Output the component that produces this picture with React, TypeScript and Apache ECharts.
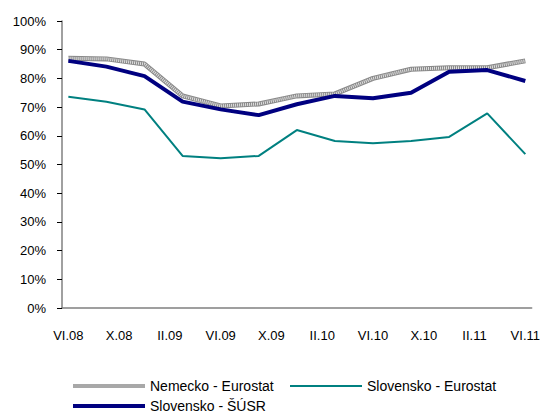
import React, { useEffect, useRef } from "react";
import * as echarts from "echarts";

// Monthly categories VI.08 .. VI.11 (37 months); data observed quarterly
const romanMonths = ["I", "II", "III", "IV", "V", "VI", "VII", "VIII", "IX", "X", "XI", "XII"];
const months: string[] = [];
for (let i = 0; i < 37; i++) {
  const m = (5 + i) % 12;
  const y = 8 + Math.floor((5 + i) / 12);
  months.push(romanMonths[m] + "." + String(y).padStart(2, "0"));
}

// Quarterly observations (VI.08, IX.08, XII.08, ... VI.11)
const nemeckoEurostat = [87.0, 86.8, 85.0, 73.9, 70.4, 71.1, 73.9, 74.6, 80.0, 83.2, 83.7, 83.7, 86.1];
const slovenskoEurostat = [73.6, 71.9, 69.2, 53.0, 52.2, 53.0, 62.0, 58.2, 57.4, 58.2, 59.6, 67.8, 53.6];
const slovenskoSUSR = [86.1, 84.1, 80.8, 71.9, 69.2, 67.2, 71.0, 73.9, 73.1, 75.0, 82.3, 82.9, 79.1];

const seriesNames = ["Nemecko - Eurostat", "Slovensko - Eurostat", "Slovensko - ŠÚSR"];

function spread(q: number[]): (number | null)[] {
  const out: (number | null)[] = months.map(() => null);
  q.forEach((v, i) => {
    out[i * 3] = v;
  });
  return out;
}

const FONT = "'Liberation Sans', Arial, sans-serif";

export default function App() {
  const ref = useRef<HTMLDivElement>(null);
  useEffect(() => {
    if (!ref.current) return;
    const chart = echarts.init(ref.current, undefined, { renderer: "svg" });
    const legendBase = {
      icon: "rect",
      itemWidth: 72,
      textStyle: { color: "#000", fontSize: 14, fontFamily: FONT },
      padding: 0,
    };
    chart.setOption({
      animation: false,
      backgroundColor: "#ffffff",
      textStyle: { fontFamily: FONT },
      grid: { left: 62, right: 11, top: 21, bottom: 105, containLabel: false },
      xAxis: {
        type: "category",
        data: months,
        boundaryGap: true,
        axisLine: { lineStyle: { color: "#808080", width: 1.5 } },
        axisTick: { interval: 3, length: 5, lineStyle: { color: "#000" } },
        axisLabel: { interval: 3, margin: 21, color: "#000", fontSize: 13, fontFamily: FONT },
        splitLine: { show: false },
      },
      yAxis: {
        type: "value",
        min: 0,
        max: 100,
        interval: 10,
        axisLine: { show: true, lineStyle: { color: "#808080", width: 1.5 } },
        axisTick: { show: true, length: 5, lineStyle: { color: "#000" } },
        axisLabel: { formatter: "{value}%", margin: 16, color: "#000", fontSize: 13, fontFamily: FONT },
        splitLine: { show: false },
      },
      legend: [
        { ...legendBase, data: [seriesNames[0]], left: 73, top: 379, itemHeight: 4 },
        { ...legendBase, data: [seriesNames[1]], left: 290, top: 379, itemHeight: 2 },
        { ...legendBase, data: [seriesNames[2]], left: 73, top: 399, itemHeight: 4 },
      ],
      series: [
        {
          name: seriesNames[0],
          type: "line",
          data: spread(nemeckoEurostat),
          connectNulls: true,
          showSymbol: false,
          symbol: "none",
          lineStyle: { color: "#8a8a8a", width: 5 },
          itemStyle: { color: "#a8a8a8" },
          z: 2,
        },
        {
          name: "nemecko-texture",
          type: "line",
          data: spread(nemeckoEurostat),
          connectNulls: true,
          showSymbol: false,
          symbol: "none",
          silent: true,
          lineStyle: { color: "#e0e0e0", width: 3, type: [1, 1] },
          itemStyle: { color: "#e0e0e0" },
          z: 2,
        },
        {
          name: seriesNames[1],
          type: "line",
          data: spread(slovenskoEurostat),
          connectNulls: true,
          showSymbol: false,
          symbol: "none",
          lineStyle: { color: "#008080", width: 2 },
          itemStyle: { color: "#008080" },
          z: 3,
        },
        {
          name: seriesNames[2],
          type: "line",
          data: spread(slovenskoSUSR),
          connectNulls: true,
          showSymbol: false,
          symbol: "none",
          lineStyle: { color: "#000080", width: 4 },
          itemStyle: { color: "#000080" },
          z: 4,
        },
      ],
    });
    return () => chart.dispose();
  }, []);
  return (
    <div
      ref={ref}
      style={{ position: "fixed", left: 0, top: 0, width: 543, height: 413 }}
    />
  );
}
